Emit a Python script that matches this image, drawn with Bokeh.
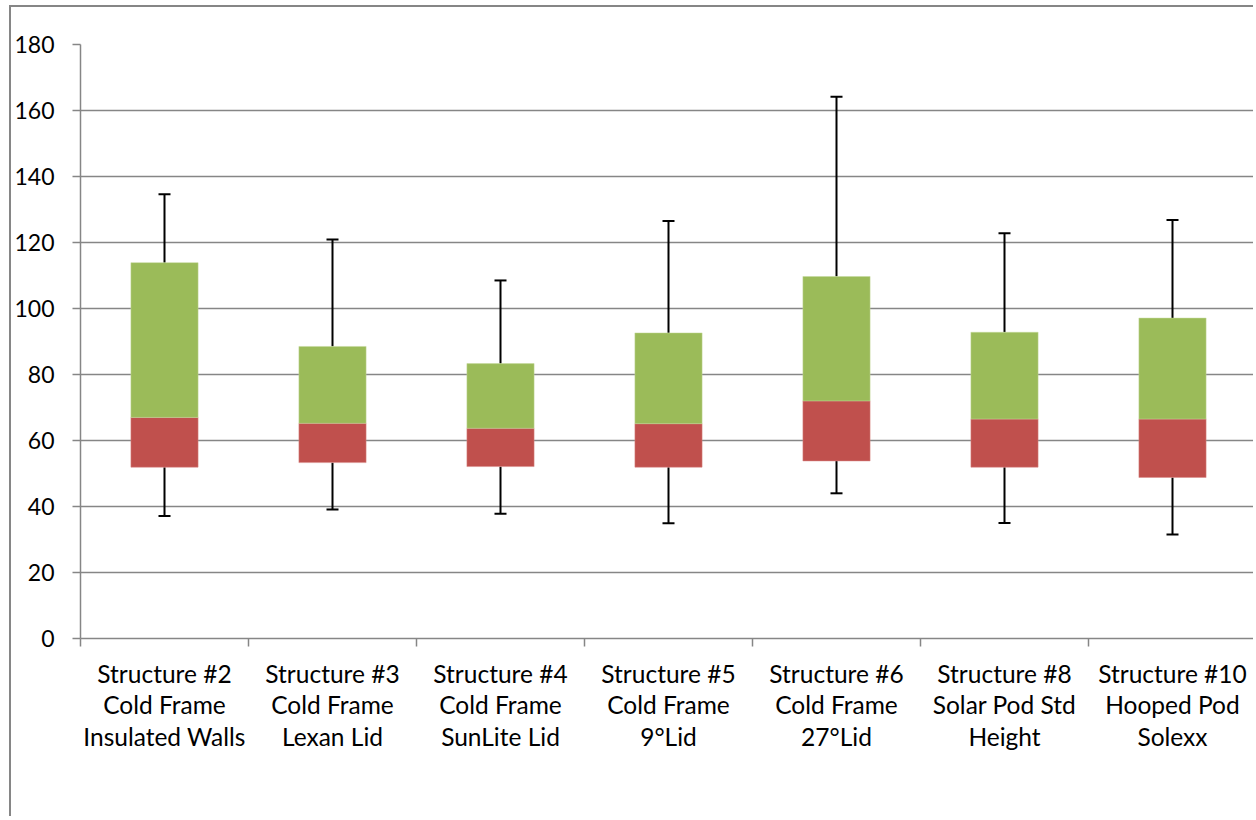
from bokeh.plotting import figure
from bokeh.models import Range1d, FixedTicker
from bokeh.embed import file_html
from bokeh.resources import INLINE

categories = [
    "Structure #2\nCold Frame\nInsulated Walls",
    "Structure #3\nCold Frame\nLexan Lid",
    "Structure #4\nCold Frame\nSunLite Lid",
    "Structure #5\nCold Frame\n9°Lid",
    "Structure #6\nCold Frame\n27°Lid",
    "Structure #8\nSolar Pod Std\nHeight",
    "Structure #10\nHooped Pod\nSolexx",
]
whisker_low = [37.1, 39.1, 37.8, 34.9, 44.0, 35.0, 31.5]
q1 = [51.9, 53.3, 52.1, 51.9, 53.8, 51.9, 48.8]
median = [67.0, 65.2, 63.7, 65.1, 72.0, 66.5, 66.5]
q3 = [113.9, 88.5, 83.3, 92.6, 109.7, 92.8, 97.1]
whisker_high = [134.6, 120.9, 108.5, 126.5, 164.2, 122.8, 126.8]
y_ticks = [0, 20, 40, 60, 80, 100, 120, 140, 160, 180]

n = len(categories)
xc = [i + 0.5 for i in range(n)]
bounds = list(range(n + 1))

FONT = "Lato"
GRAY = "#868686"

p = figure(
    width=1244, height=811,
    x_range=Range1d(0, 1175 / 168), y_range=Range1d(0, 180),
    output_backend="svg", toolbar_location=None,
    min_border_left=69, min_border_right=0, min_border_top=37, min_border_bottom=180,
)
p.styles = {
    "margin-left": "9px", "margin-top": "5px",
    "border-left": "2px solid " + GRAY, "border-top": "2px solid " + GRAY,
}
p.outline_line_color = None
p.background_fill_color = "white"
p.border_fill_color = "white"

p.xgrid.visible = False
p.ygrid.ticker = FixedTicker(ticks=y_ticks)
p.ygrid.grid_line_color = GRAY
p.ygrid.grid_line_width = 1.5

# whisker stems and caps
p.segment(xc, whisker_low, xc, q1, line_color="black", line_width=2)
p.segment(xc, q3, xc, whisker_high, line_color="black", line_width=2)
p.scatter(xc, whisker_low, marker="dash", size=12, line_color="black", line_width=2)
p.scatter(xc, whisker_high, marker="dash", size=12, line_color="black", line_width=2)

# boxes
p.vbar(x=xc, width=0.4, bottom=q1, top=median, fill_color="#C0504D", line_color="#D88A88", line_width=0.5)
p.vbar(x=xc, width=0.4, bottom=median, top=q3, fill_color="#9BBB59", line_color="#C4D89C", line_width=0.5)

# y axis
ya = p.yaxis[0]
ya.ticker = FixedTicker(ticks=y_ticks)
ya.axis_line_color = GRAY
ya.axis_line_width = 1.5
ya.major_tick_line_color = GRAY
ya.major_tick_line_width = 1.5
ya.major_tick_out = 8
ya.major_tick_in = 0
ya.minor_tick_line_color = None
ya.major_label_text_font = FONT
ya.major_label_text_font_size = "23px"
ya.major_label_text_color = "black"
ya.major_label_standoff = 18

# x axis
xa = p.xaxis[0]
xa.ticker = FixedTicker(ticks=xc, minor_ticks=bounds)
xa.axis_line_color = GRAY
xa.axis_line_width = 1.5
xa.major_tick_line_color = None
xa.minor_tick_line_color = GRAY
xa.minor_tick_line_width = 1.5
xa.minor_tick_out = 8
xa.minor_tick_in = 0
xa.major_label_overrides = {x: c for x, c in zip(xc, categories)}
xa.major_label_text_font = FONT
xa.major_label_text_font_size = "24.5px"
xa.major_label_text_color = "black"
xa.major_label_text_line_height = 1.1
xa.major_label_standoff = 12

open("out.html", "w").write(file_html(p, INLINE))
